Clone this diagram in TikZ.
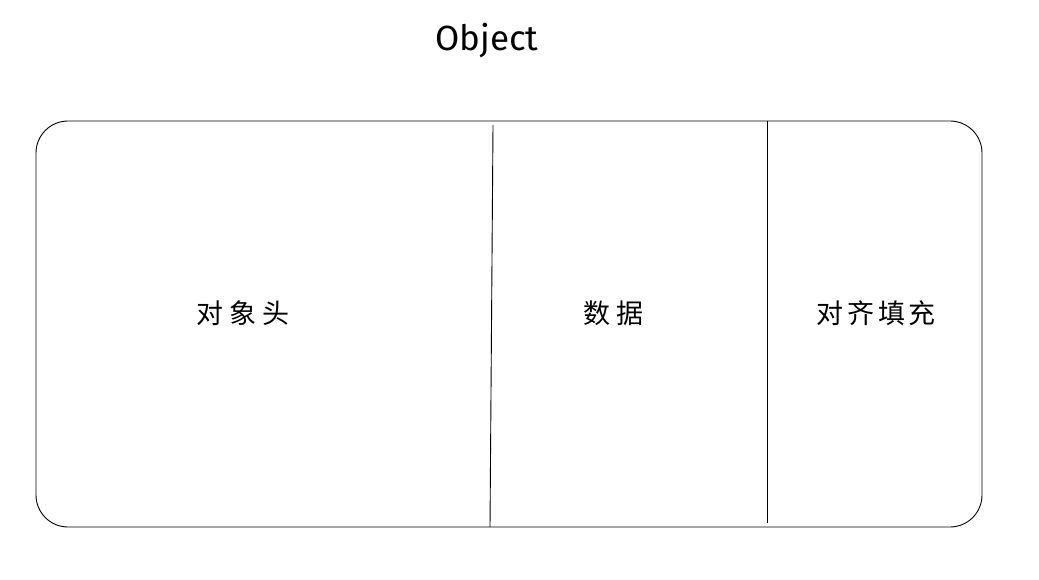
\documentclass[tikz,border=0pt]{standalone}
\usepackage{fontspec}
\setmainfont{Fira Sans}
\newfontfamily\cjk{Noto Sans CJK SC}
\begin{document}
\begin{tikzpicture}[x=1pt,y=-1pt,
  lbl/.style={font=\cjk\fontsize{27}{30}\selectfont, inner sep=0pt},
  ttl/.style={font=\fontsize{35}{38}\selectfont, inner sep=0pt},
  ln/.style={line width=0.9pt, black}]
\useasboundingbox (0,0) rectangle (1039,580);
\draw[ln, rounded corners=32pt] (36,121) rectangle (982,527);
\coordinate (d1t) at (493,125);
\coordinate (d1b) at (490,527);
\coordinate (d2t) at (767,121);
\coordinate (d2b) at (767,523);
\draw[ln] (d1t) -- (d1b);
\draw[ln] (d2t) -- (d2b);
\node[ttl] (title) at (487,41) {Object};
\node[lbl] (head) at (243,313) {对\kern6pt 象\kern6pt 头};
\node[lbl] (data) at (613,313) {数\kern6pt 据};
\node[lbl] (pad) at (876,313) {对\kern4pt 齐\kern4pt 填\kern4pt 充};
\end{tikzpicture}
\end{document}
